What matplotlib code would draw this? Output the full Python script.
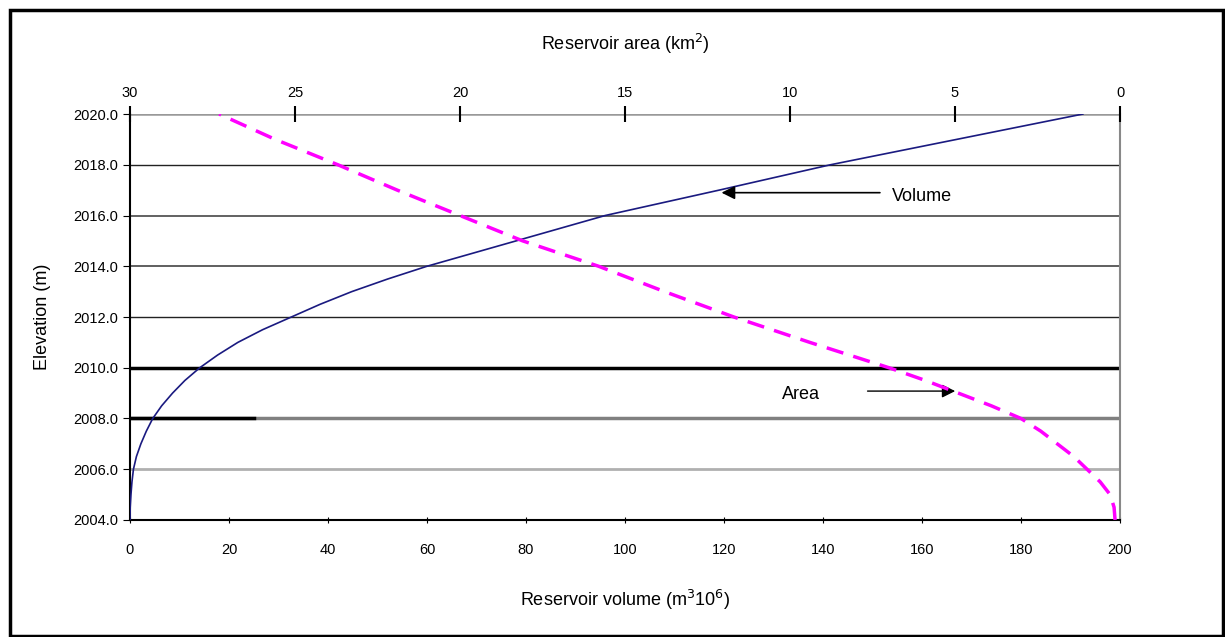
import matplotlib.pyplot as plt

plt.rcParams['font.family'] = ['Liberation Sans', 'DejaVu Sans']

# elevation levels (m) and reservoir volume (m3 10^6)
vol_elev = [2004, 2004.5, 2005, 2005.5, 2006, 2006.5, 2007, 2007.5, 2008, 2008.5,
            2009, 2009.5, 2010, 2010.5, 2011, 2011.5, 2012, 2012.5, 2013, 2013.5,
            2014, 2015, 2016, 2017, 2018, 2019, 2020]
volume = [0.0, 0.05, 0.2, 0.4, 0.7, 1.3, 2.2, 3.3, 4.6, 6.4,
          8.6, 11.1, 14.1, 17.7, 21.8, 26.8, 32.6, 38.4, 44.8, 52.1,
          60.0, 78.0, 96.0, 119.0, 141.5, 167.0, 192.5]

# elevation levels (m) and reservoir area (km2)
area_elev = [2004, 2004.5, 2005, 2005.5, 2006, 2006.5, 2007, 2007.5, 2008, 2008.5,
             2009, 2009.5, 2010, 2011, 2012, 2013, 2014, 2015, 2016, 2017,
             2018, 2019, 2020]
area = [0.15, 0.18, 0.3, 0.6, 1.0, 1.4, 1.9, 2.4, 3.0, 3.9,
        4.9, 5.9, 7.0, 9.4, 11.7, 13.8, 15.8, 18.1, 20.0, 21.9,
        23.7, 25.6, 27.3]

yticks = [2004, 2006, 2008, 2010, 2012, 2014, 2016, 2018, 2020]
vol_ticks = [0, 20, 40, 60, 80, 100, 120, 140, 160, 180, 200]
area_ticks = [30, 25, 20, 15, 10, 5, 0]

fig = plt.figure(figsize=(12.25, 6.37), dpi=100)
ax = fig.add_axes([0.1061, 0.1837, 0.8082, 0.6373])

# outer frame
fig.patches.append(plt.Rectangle((0.008, 0.002), 0.99, 0.982, transform=fig.transFigure,
                                 fill=False, edgecolor='black', linewidth=2.5))

# horizontal gridlines (uneven look of the original)
grid_style = {
    2006: ('#b0b0b0', 2.0),
    2008: ('#808080', 2.5),
    2010: ('black', 2.5),
    2012: ('#222222', 1.0),
    2014: ('#444444', 1.2),
    2016: ('#555555', 1.3),
    2018: ('#222222', 1.0),
    2020: ('#999999', 1.8),
}
for yv, (c, lw) in grid_style.items():
    ax.axhline(yv, color=c, linewidth=lw, zorder=1)
ax.plot([0, 25], [2008, 2008], color='black', linewidth=2.5, zorder=1.5)

ax.plot(volume, vol_elev, color='#1a1a80', linewidth=1.2, zorder=3)

ax.set_xlim(0, 200)
ax.set_ylim(2004, 2020)
ax.set_xticks(vol_ticks)
ax.set_yticks(yticks)
ax.set_yticklabels([f'{v:.1f}' for v in yticks])
ax.tick_params(axis='x', direction='inout', length=5, labelsize=10.5, pad=14)
ax.tick_params(axis='y', direction='out', length=5, labelsize=10.5)
ax.spines['top'].set_visible(False)
ax.spines['right'].set_color('#888888')
ax.spines['right'].set_linewidth(1.5)
ax.spines['left'].set_linewidth(1.5)
ax.spines['bottom'].set_linewidth(1.5)
ax.set_xlabel('Reservoir volume (m$^3$10$^6$)', fontsize=13, labelpad=22)
ax.set_ylabel('Elevation (m)', fontsize=13, labelpad=16)

ax2 = ax.twiny()
ax2.plot(area, area_elev, color='#ff00ff', linewidth=2.5, linestyle=(0, (5, 3)), zorder=3)
ax2.set_xlim(30, 0)
ax2.set_xticks(area_ticks)
ax2.tick_params(axis='x', direction='inout', length=12, width=1.5, labelsize=10.5, pad=4)
for s in ['top', 'right', 'left', 'bottom']:
    ax2.spines[s].set_visible(False)
ax2.set_xlabel('Reservoir area (km$^2$)', fontsize=13, labelpad=26)

# annotations
ax.annotate('', xy=(119.5, 2016.9), xytext=(151.5, 2016.9),
            arrowprops=dict(arrowstyle='-|>', color='black', lw=1.2, shrinkA=0, shrinkB=0,
                            mutation_scale=20))
ax.text(154, 2016.75, 'Volume', fontsize=13, va='center', ha='left')
ax.annotate('', xy=(166.7, 2009.08), xytext=(149, 2009.08),
            arrowprops=dict(arrowstyle='-|>', color='black', lw=1.0, shrinkA=0, shrinkB=0,
                            mutation_scale=20))
ax.text(131.7, 2008.93, 'Area', fontsize=13, va='center', ha='left')

fig.savefig('out.png', dpi=100)
